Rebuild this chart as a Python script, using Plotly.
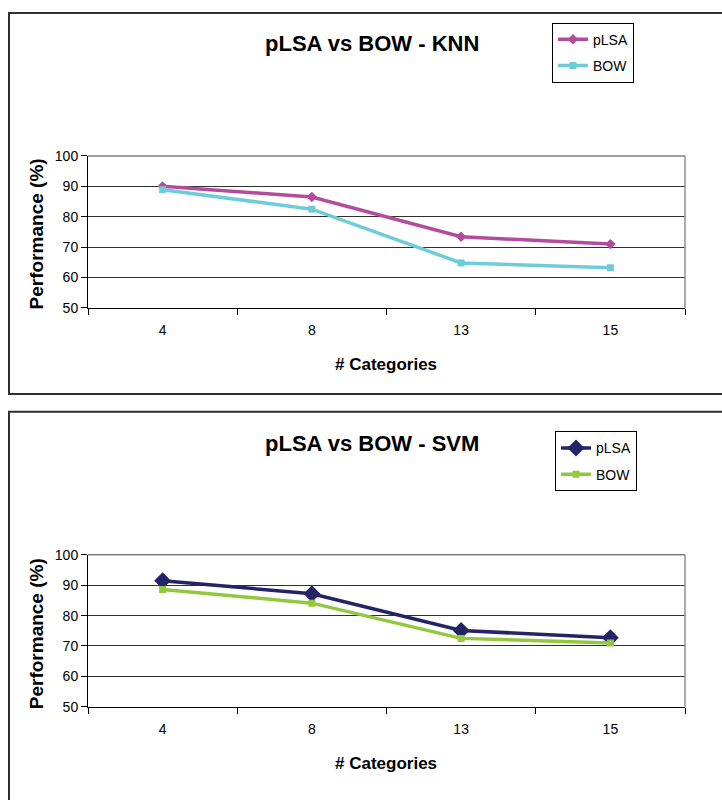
import plotly.graph_objects as go

categories = ["4", "8", "13", "15"]
knn_plsa = [90.0, 86.5, 73.4, 71.0]
knn_bow = [88.9, 82.5, 64.8, 63.2]
svm_plsa = [91.5, 87.2, 75.1, 72.7]
svm_bow = [88.6, 84.1, 72.5, 71.0]
y_ticks = [50, 60, 70, 80, 90, 100]

W, H = 722, 800
FONT = "Arial, Liberation Sans, sans-serif"

def px_x(x):
    return x / W

def px_y(y):
    return 1 - y / H

fig = go.Figure()

fig.add_trace(go.Scatter(x=categories, y=knn_plsa, name="pLSA", mode="lines+markers",
                         line=dict(color="#B44C9E", width=3.5),
                         marker=dict(symbol="diamond", size=8, color="#B44C9E"),
                         xaxis="x", yaxis="y", legend="legend", legendgroup="a"))
fig.add_trace(go.Scatter(x=categories, y=knn_bow, name="BOW", mode="lines+markers",
                         line=dict(color="#6ECCD9", width=3.5),
                         marker=dict(symbol="square", size=7, color="#6ECCD9"),
                         xaxis="x", yaxis="y", legend="legend", legendgroup="b"))
fig.add_trace(go.Scatter(x=categories, y=svm_plsa, name="pLSA", mode="lines+markers",
                         line=dict(color="#232468", width=3.5),
                         marker=dict(symbol="diamond", size=13, color="#232468"),
                         xaxis="x2", yaxis="y2", legend="legend2", legendgroup="c"))
fig.add_trace(go.Scatter(x=categories, y=svm_bow, name="BOW", mode="lines+markers",
                         line=dict(color="#92C83E", width=3.5),
                         marker=dict(symbol="square", size=7, color="#92C83E"),
                         xaxis="x2", yaxis="y2", legend="legend2", legendgroup="d"))

def xaxis_cfg(anchor, domain_x):
    return dict(domain=domain_x, anchor=anchor, type="category", range=[-0.5, 3.5],
                tickson="boundaries", ticks="outside", ticklen=6, tickcolor="black",
                showline=True, linecolor="black", linewidth=1, showgrid=False,
                tickfont=dict(family=FONT, size=14, color="black"),
                ticklabelstandoff=9, zeroline=False, fixedrange=True)

def yaxis_cfg(anchor, domain_y):
    return dict(domain=domain_y, anchor=anchor, range=[50, 100], tickvals=y_ticks,
                ticks="outside", ticklen=6, tickcolor="black",
                showline=True, linecolor="black", linewidth=1,
                showgrid=True, gridcolor="#303030", gridwidth=1,
                tickfont=dict(family=FONT, size=14, color="black"),
                zeroline=False, fixedrange=True)

dx = [px_x(88), px_x(685)]
leg_common = dict(xanchor="left", yanchor="top",
                  bordercolor="black", borderwidth=1, bgcolor="white",
                  font=dict(family=FONT, size=14, color="black"),
                  tracegroupgap=5, itemwidth=30)
fig.update_layout(
    width=W, height=H, margin=dict(l=0, r=0, t=0, b=0),
    paper_bgcolor="white", plot_bgcolor="white",
    xaxis=xaxis_cfg("y", dx),
    yaxis=yaxis_cfg("x", [px_y(306), px_y(151)]),
    xaxis2=xaxis_cfg("y2", dx),
    yaxis2=yaxis_cfg("x2", [px_y(713), px_y(558)]),
    legend=dict(x=px_x(552), y=px_y(15), **leg_common),
    legend2=dict(x=px_x(555), y=px_y(432), **leg_common),
    showlegend=True,
)

shapes = []
shapes.append(dict(type="rect", xref="paper", yref="paper",
                   x0=px_x(9), x1=px_x(730), y0=px_y(394), y1=px_y(5),
                   line=dict(color="#303030", width=2), layer="below"))
shapes.append(dict(type="rect", xref="paper", yref="paper",
                   x0=px_x(9), x1=px_x(730), y0=px_y(810), y1=px_y(412),
                   line=dict(color="#303030", width=2), layer="below"))
for top, bot in [(151, 306), (558, 713)]:
    shapes.append(dict(type="line", xref="paper", yref="paper",
                       x0=px_x(88), x1=px_x(685), y0=px_y(top), y1=px_y(top),
                       line=dict(color="#808080", width=1.5)))
    shapes.append(dict(type="line", xref="paper", yref="paper",
                       x0=px_x(685), x1=px_x(685), y0=px_y(top), y1=px_y(bot),
                       line=dict(color="#909090", width=1.5)))
fig.update_layout(shapes=shapes)

ann = []
for title, ty, yt, xt in [("pLSA vs BOW - KNN", 36, 231, 364), ("pLSA vs BOW - SVM", 444, 639, 771)]:
    ann.append(dict(text="<b>" + title + "</b>", x=px_x(372), y=px_y(ty), xref="paper", yref="paper",
                    showarrow=False, xanchor="center", yanchor="middle",
                    font=dict(family=FONT, size=22, color="black")))
    ann.append(dict(text="<b>Performance (%)</b>", x=px_x(36), y=px_y(yt), xref="paper", yref="paper",
                    showarrow=False, xanchor="center", yanchor="middle", textangle=-90,
                    font=dict(family=FONT, size=19, color="black")))
    ann.append(dict(text="<b># Categories</b>", x=px_x(386), y=px_y(xt), xref="paper", yref="paper",
                    showarrow=False, xanchor="center", yanchor="middle",
                    font=dict(family=FONT, size=17, color="black")))
fig.update_layout(annotations=ann)

fig.write_html("out.html")
